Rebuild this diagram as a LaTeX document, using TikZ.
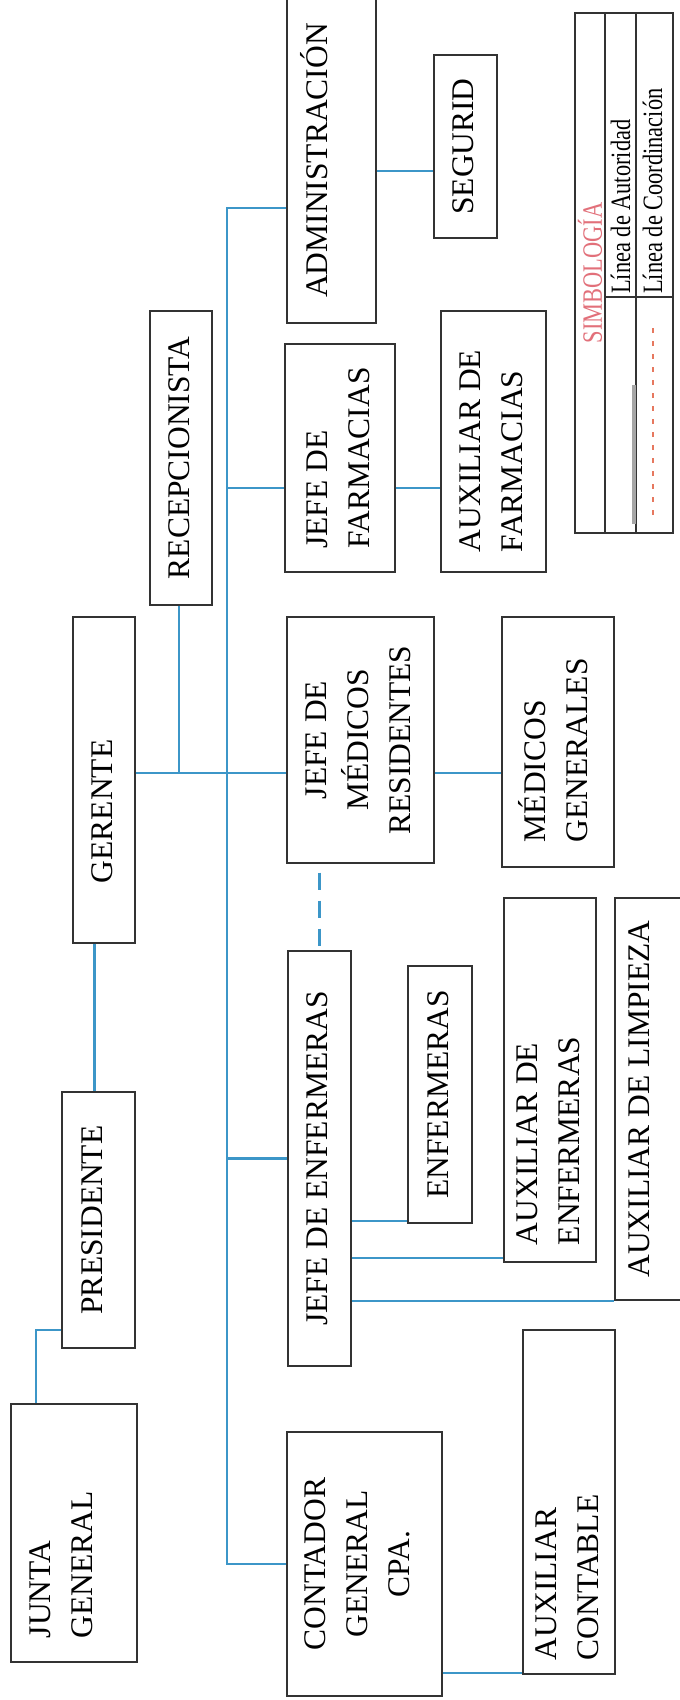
\documentclass[tikz,border=0pt]{standalone}
\usepackage{fontspec}
\setmainfont{Liberation Serif}
\usepackage{graphicx}
\usepackage{tikz}
\definecolor{azul}{RGB}{60,150,200}
\definecolor{rosa}{RGB}{226,112,122}
\definecolor{naranja}{RGB}{230,120,95}
\NewDocumentCommand{\giro}{O{c} O{0pt} m}{\rotatebox{90}{\raisebox{#2}[\height][\depth]{\begin{tabular}{@{}#1@{}}#3\end{tabular}}}}
\newcommand{\angosto}[1]{\rotatebox{90}{\scalebox{0.8}[1]{#1}}}
\tikzset{
  caja/.style={draw=black!80, line width=1.4pt, inner sep=0pt, font=\fontsize{31.5}{42}\selectfont},
  linea/.style={draw=azul, line width=2.2pt},
  leyenda/.style={inner sep=0pt, font=\fontsize{28}{31}\selectfont}
}

\begin{document}
\begin{tikzpicture}[x=1pt, y=-1pt]
		\fill[white] (0,0) rectangle (680,1700);
		\useasboundingbox (0,0) rectangle (680,1700);

		% Boxes
		\node[caja, minimum width=89pt, minimum height=325pt] (admin) at (331.5,160.5) {\giro[c][12pt]{ADMINISTRACIÓN}};
		\node[caja, minimum width=63pt, minimum height=183pt] (seg) at (465.5,146.5) {\giro{SEGURID}};
		\node[caja, minimum width=62pt, minimum height=294pt] (recep) at (181,458) {\giro{RECEPCIONISTA}};
		\node[caja, minimum width=110pt, minimum height=228pt] (jf) at (340,458) {\giro[l]{JEFE DE\\FARMACIAS}};
		\node[caja, minimum width=105pt, minimum height=261pt] (af) at (493.5,441.5) {\giro[p{221pt}]{AUXILIAR DE\\FARMACIAS}};
		\node[caja, minimum width=62pt, minimum height=326pt] (ger) at (104,780) {\giro[p{206pt}]{GERENTE}};
		\node[caja, minimum width=147pt, minimum height=246pt] (jm) at (360.5,740) {\giro{JEFE DE\\MÉDICOS\\RESIDENTES}};
		\node[caja, minimum width=112pt, minimum height=250pt] (mg) at (558,742) {\giro[p{200pt}]{MÉDICOS\\GENERALES}};
		\node[caja, minimum width=73pt, minimum height=256pt] (pres) at (98.5,1220) {\giro[c][4pt]{PRESIDENTE}};
		\node[caja, minimum width=63pt, minimum height=415pt] (je) at (319.5,1158.5) {\giro{JEFE DE ENFERMERAS}};
		\node[caja, minimum width=64pt, minimum height=257pt] (enf) at (440,1094.5) {\giro{ENFERMERAS}};
		\node[caja, minimum width=92pt, minimum height=364pt] (auxenf) at (550,1080) {\giro[p{330pt}]{AUXILIAR DE\\ENFERMERAS}};
		\node[caja, minimum width=69pt, minimum height=402pt] (limp) at (649.5,1099) {\giro[c][8pt]{AUXILIAR DE LIMPIEZA}};
		\node[caja, minimum width=126pt, minimum height=258pt] (junta) at (74,1533) {\giro[p{210pt}][11pt]{JUNTA\\GENERAL}};
		\node[caja, minimum width=155pt, minimum height=264pt] (cont) at (364.5,1564) {\giro[c][5pt]{CONTADOR\\GENERAL\\CPA.}};
		\node[caja, minimum width=92pt, minimum height=344pt] (auxcont) at (569,1502) {\giro[p{316pt}]{AUXILIAR\\CONTABLE}};

		% Junction points
		\coordinate (bus) at (227,0);
		\coordinate (nS) at (0,171);
		\coordinate (nF) at (227,488);
		\coordinate (nG) at (179,773);
		\coordinate (nP) at (94.5,0);
		\coordinate (nJ) at (36,1330);
		\coordinate (nE) at (0,1221);
		\coordinate (nA) at (0,1258);
		\coordinate (nC) at (0,1673);

		% Lines of authority
		\draw[linea] (admin.west |- 0,208) -| (cont.west -| bus) -- (cont.west);
		\draw[linea] (admin.east |- nS) -- (seg.west |- nS);
		\draw[linea] (nF) -- (jf.west |- nF);
		\draw[linea] (jf.east |- nF) -- (af.west |- nF);
		\draw[linea] (ger.east |- nG) -- (jm.west |- nG);
		\draw[linea] (recep.south -| nG) -- (nG);
		\draw[linea] (jm.east |- nG) -- (mg.west |- nG);
		\draw[linea] (ger.south -| nP) -- (pres.north -| nP);
		\draw[linea] (pres.west |- nJ) -| (junta.north -| nJ);
		\draw[linea] (je.west -| bus) -- (je.west);
		\draw[linea] (je.east |- nE) -- (enf.west |- nE);
		\draw[linea] (je.east |- nA) -- (auxenf.west |- nA);
		\draw[linea] (je.east |- limp.south west) -- (limp.south west);
		\draw[linea] (cont.east |- nC) -- (auxcont.west |- nC);

		% Line of coordination
		\draw[linea, dash pattern=on 17pt off 11pt, dash phase=19pt] (jm.south -| je.north) -- (je.north);

		% Legend
		\draw[black!80, line width=1.4pt] (575,13) rectangle (673,533);
		\draw[black!80, line width=1.4pt] (605,13) -- (605,533) (636,13) -- (636,533) (605,297) -- (673,297);
		\node[leyenda, text=rosa] (simb) at (590,273) {\angosto{SIMBOLOGÍA}};
		\node[leyenda, anchor=south] (aut) at (620.5,294) {\angosto{Línea de Autoridad}};
		\node[leyenda, anchor=south] (coord) at (652.5,294) {\angosto{Línea de Coordinación}};
		\draw[gray!70, line width=3.5pt] (634,385) -- (634,524);
		\draw[naranja, line width=1.8pt, dash pattern=on 5pt off 8pt] (653,328) -- (653,520);
	\end{tikzpicture}
\end{document}
